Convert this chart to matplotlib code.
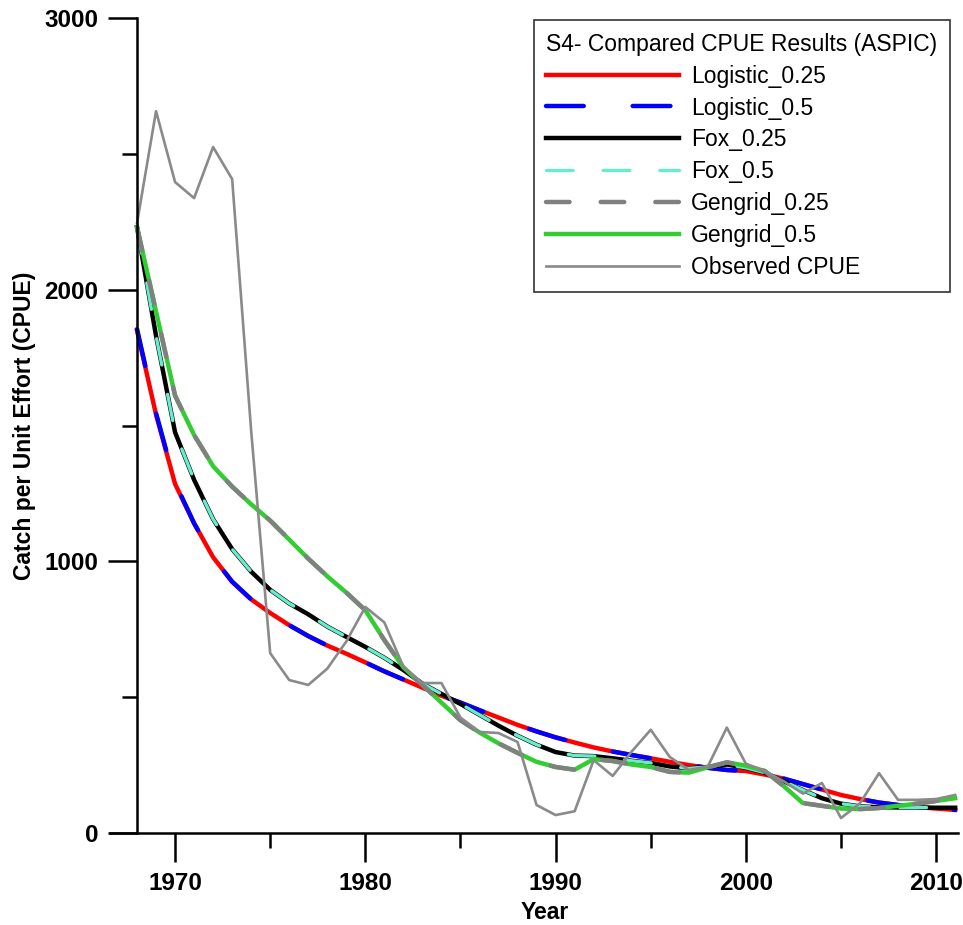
import matplotlib
matplotlib.use('Agg')
import matplotlib.pyplot as plt
from matplotlib.ticker import MultipleLocator

plt.rcParams['font.family'] = ['Liberation Sans', 'DejaVu Sans']

years = list(range(1968, 2012))

logistic_025 = [1850, 1540, 1285, 1140, 1015, 925, 860, 810, 765, 725,
                690, 660, 628, 595, 565, 535, 505, 480, 452, 425,
                398, 374, 352, 333, 315, 300, 287, 275, 262, 250,
                240, 232, 228, 215, 200, 180, 160, 140, 125, 112,
                103, 96, 90, 85]
logistic_05 = [1855, 1545, 1290, 1140, 1015, 925, 860, 810, 765, 725,
               690, 660, 628, 595, 565, 535, 505, 480, 452, 425,
               398, 374, 352, 333, 315, 300, 287, 275, 262, 250,
               240, 232, 228, 215, 200, 180, 160, 140, 125, 112,
               103, 96, 90, 85]
fox_025 = [2230, 1830, 1475, 1300, 1155, 1045, 962, 895, 845, 805,
           760, 722, 685, 645, 600, 550, 512, 475, 435, 395,
           358, 325, 298, 285, 283, 275, 266, 258, 245, 238,
           243, 252, 240, 222, 190, 158, 128, 108, 98, 95,
           94, 94, 93, 93]
fox_05 = [2230, 1830, 1475, 1300, 1155, 1045, 962, 895, 845, 805,
          760, 722, 685, 645, 600, 550, 512, 475, 435, 395,
          358, 325, 298, 285, 283, 275, 266, 258, 245, 238,
          243, 252, 240, 222, 190, 158, 128, 108, 98, 95,
          94, 94, 93, 93]
gengrid_025 = [2230, 1920, 1610, 1465, 1350, 1275, 1210, 1150, 1080, 1010,
               945, 885, 820, 710, 610, 545, 480, 415, 370, 330,
               295, 262, 243, 233, 272, 265, 252, 243, 225, 222,
               242, 260, 248, 228, 172, 110, 100, 90, 88, 92,
               100, 108, 118, 128]
gengrid_05 = [2230, 1920, 1610, 1465, 1350, 1275, 1210, 1150, 1080, 1010,
              945, 885, 820, 710, 610, 545, 480, 415, 370, 330,
              295, 262, 243, 233, 272, 265, 252, 243, 225, 222,
              242, 260, 248, 228, 172, 110, 100, 90, 88, 92,
              100, 108, 118, 128]
observed = [2245, 2657, 2396, 2337, 2525, 2407, 1480, 662, 563, 545,
            605, 705, 832, 775, 612, 552, 552, 425, 372, 368,
            335, 103, 66, 80, 268, 210, 300, 380, 280, 232,
            245, 388, 255, 228, 190, 145, 184, 55, 110, 220,
            122, 122, 125, 140]

fig = plt.figure(figsize=(9.63, 9.25), dpi=100)
ax = fig.add_axes([110 / 963, 92 / 925, 848 / 963, 815 / 925])

lw = 3.2
h_red, = ax.plot(years, logistic_025, color='#ff0000', lw=lw, label='Logistic_0.25')
h_blue, = ax.plot(years, logistic_05, color='#0000ff', lw=lw, label='Logistic_0.5',
                  linestyle=(0, (8.5, 11)), dash_capstyle='round')
h_black, = ax.plot(years, fox_025, color='black', lw=lw, label='Fox_0.25')
h_aqua, = ax.plot(years, fox_05, color='#66eecc', lw=2.4, label='Fox_0.5',
                  linestyle=(0, (8, 9)), dash_capstyle='round')
h_green, = ax.plot(years, gengrid_05, color='#33cc33', lw=lw, label='Gengrid_0.5')
h_gray, = ax.plot(years, gengrid_025, color='#808080', lw=lw, label='Gengrid_0.25',
                  linestyle=(0, (5.3, 7)), dash_capstyle='round')
h_obs, = ax.plot(years, observed, color='#8a8a8a', lw=1.9, label='Observed CPUE')

ax.set_xlim(1966.58, 2011.15)
ax.set_ylim(0, 3000)

ax.spines['top'].set_visible(False)
ax.spines['right'].set_visible(False)
ax.spines['left'].set_position(('data', 1968))
ax.spines['left'].set_linewidth(1.8)
ax.spines['bottom'].set_linewidth(1.8)

ax.xaxis.set_major_locator(MultipleLocator(10))
ax.xaxis.set_minor_locator(MultipleLocator(5))
ax.yaxis.set_major_locator(MultipleLocator(1000))
ax.yaxis.set_minor_locator(MultipleLocator(500))
ax.tick_params(axis='both', which='major', direction='out', length=21, width=1.8,
               labelsize=17.5, pad=7)
ax.tick_params(axis='both', which='minor', direction='out', length=11, width=1.8)
for lab in ax.get_xticklabels() + ax.get_yticklabels():
    lab.set_fontweight('bold')

ax.set_xlabel('Year', fontsize=16.5, fontweight='bold')
ax.set_ylabel('Catch per Unit Effort (CPUE)', fontsize=16.5, fontweight='bold')
ax.xaxis.set_label_coords(0.513, -0.083)
ax.yaxis.set_label_coords(-0.087, 0.5)

leg = ax.legend(handles=[h_red, h_blue, h_black, h_aqua, h_gray, h_green, h_obs],
                title='S4- Compared CPUE Results (ASPIC)', loc='upper right',
                bbox_to_anchor=(0.9906, 0.9975), borderaxespad=0, fontsize=16.5,
                title_fontsize=16.5, handlelength=5.8, handletextpad=0.5,
                labelspacing=0.39, borderpad=0.55, alignment='left',
                fancybox=False, framealpha=1, edgecolor='#333333')
leg.get_frame().set_linewidth(1.2)

fig.savefig('out.png', dpi=100)
